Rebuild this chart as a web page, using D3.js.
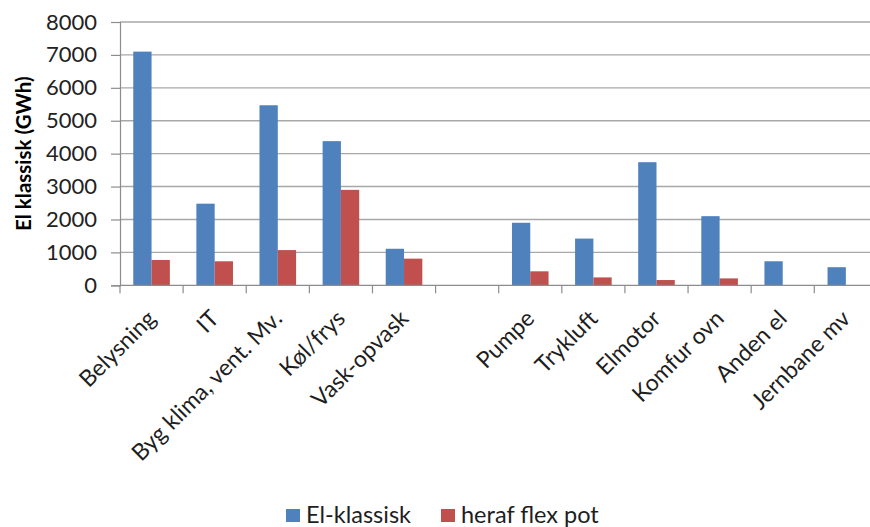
<!DOCTYPE html>
<html>
<head>
<meta charset="utf-8">
<script src="https://cdn.jsdelivr.net/npm/d3@7"></script>
<style>
  html, body { margin: 0; padding: 0; background: #fff; }
  svg { display: block; font-family: Lato, "Open Sans", sans-serif; }
</style>
</head>
<body>
<svg id="chart" width="870" height="527"></svg>
<script>
// Electricity use by end-use category (GWh) and the flexible share of it
const categories = ["Belysning", "IT", "Byg klima, vent. Mv.", "Køl/frys", "Vask-opvask", "",
                    "Pumpe", "Trykluft", "Elmotor", "Komfur ovn", "Anden el", "Jernbane mv"];
const elKlassisk = [7100, 2480, 5470, 4380, 1110, null, 1900, 1420, 3740, 2100, 730, 550];
const herafFlexPot = [770, 730, 1070, 2900, 810, null, 425, 240, 160, 210, null, null];
const seriesNames = ["El-klassisk", "heraf flex pot"];
const seriesColors = ["#4F81BD", "#C0504D"];
const yTicks = [0, 1000, 2000, 3000, 4000, 5000, 6000, 7000, 8000];
const yTitle = "El klassisk (GWh)";

const svg = d3.select("#chart");
const plot = { left: 120, right: 877.4, top: 22, bottom: 285.3 };

const x = d3.scaleBand()
  .domain(categories.map((d, i) => i))
  .range([plot.left, plot.right])
  .paddingInner(0).paddingOuter(0);

const xSub = d3.scaleBand()
  .domain([0, 1])
  .range([0, x.bandwidth()])
  .paddingInner(0).paddingOuter(0.725);

const y = d3.scaleLinear().domain([0, 8000]).range([plot.bottom, plot.top]);

// Horizontal gridlines
svg.append("g")
  .selectAll("line")
  .data(yTicks.filter(t => t > 0))
  .join("line")
  .attr("x1", plot.left).attr("x2", plot.right)
  .attr("y1", d => y(d)).attr("y2", d => y(d))
  .attr("stroke", "#a8a8a8").attr("stroke-width", 1.4);

// Bars
const series = [elKlassisk, herafFlexPot];
series.forEach((vals, s) => {
  svg.append("g")
    .selectAll("rect")
    .data(vals.map((v, i) => ({ i, v })).filter(d => d.v != null))
    .join("rect")
    .attr("x", d => x(d.i) + xSub(s))
    .attr("width", xSub.bandwidth())
    .attr("y", d => y(d.v))
    .attr("height", d => y(0) - y(d.v))
    .attr("fill", seriesColors[s]);
});

// Y axis
const yAxis = d3.axisLeft(y).tickValues(yTicks).tickSize(9).tickPadding(14).tickFormat(d3.format("d"));
const gy = svg.append("g").attr("transform", `translate(${plot.left},0)`).call(yAxis);
gy.select(".domain").attr("stroke", "#8c8c8c").attr("stroke-width", 1.2);
gy.selectAll(".tick line").attr("stroke", "#8c8c8c").attr("stroke-width", 1.2);
gy.selectAll(".tick text")
  .attr("font-family", "Lato, 'Open Sans', sans-serif")
  .attr("font-size", 22).attr("fill", "#222");

// X axis with ticks on category boundaries
const xAxisLine = svg.append("g");
xAxisLine.append("line")
  .attr("x1", plot.left).attr("x2", plot.right)
  .attr("y1", y(0)).attr("y2", y(0))
  .attr("stroke", "#8c8c8c").attr("stroke-width", 1.2);
xAxisLine.selectAll("line.tk")
  .data(categories.map((d, i) => i))
  .join("line").attr("class", "tk")
  .attr("x1", i => x(i)).attr("x2", i => x(i))
  .attr("y1", y(0)).attr("y2", y(0) + 8)
  .attr("stroke", "#8c8c8c").attr("stroke-width", 1.2);

// Rotated category labels
svg.append("g")
  .selectAll("text")
  .data(categories.map((d, i) => ({ d, i })))
  .join("text")
  .attr("transform", c => `translate(${x(c.i) + x.bandwidth() / 2},${y(0) + 29}) rotate(-45)`)
  .attr("text-anchor", "end")
  .attr("dy", "0.35em")
  .attr("font-size", 23).attr("fill", "#1e1e1e")
  .text(c => c.d);

// Y axis title
svg.append("text")
  .attr("transform", `translate(31,${(plot.top + plot.bottom) / 2}) rotate(-90)`)
  .attr("text-anchor", "middle")
  .attr("font-size", 20.5).attr("font-weight", "bold").attr("fill", "#000")
  .text(yTitle);

// Legend
const legendX = [286, 441];
const legend = svg.append("g");
seriesNames.forEach((name, s) => {
  legend.append("rect")
    .attr("x", legendX[s]).attr("y", 509)
    .attr("width", 14).attr("height", 13)
    .attr("fill", seriesColors[s]);
  legend.append("text")
    .attr("x", legendX[s] + 20).attr("y", 515)
    .attr("dy", "0.35em")
    .attr("font-size", 23.5).attr("fill", "#1e1e1e")
    .text(name);
});
</script>
</body>
</html>
